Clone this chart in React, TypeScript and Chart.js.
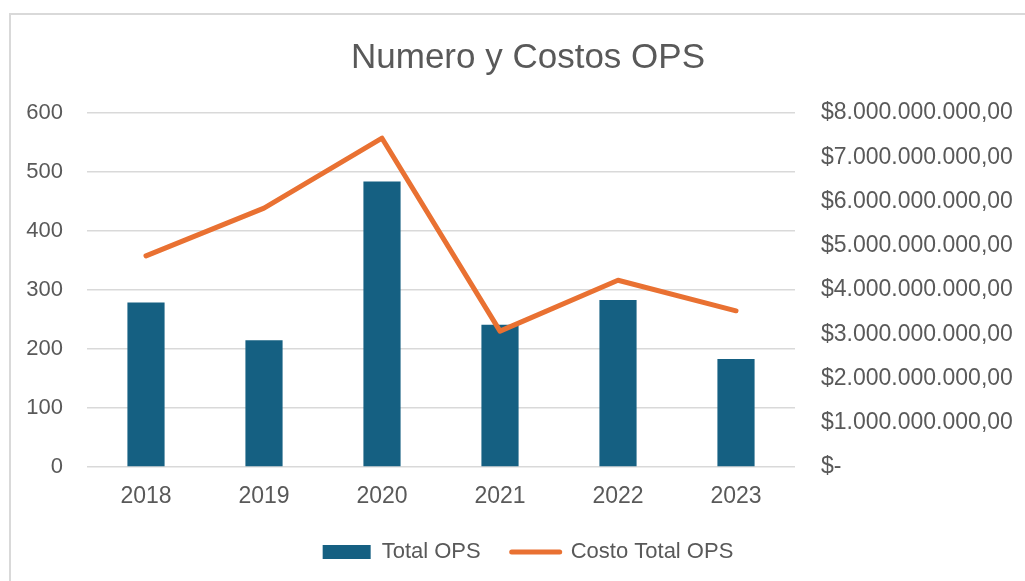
import React, { useEffect, useRef } from "react";
import { Chart, registerables } from "chart.js";

Chart.register(...registerables);

const chartTitle = "Numero y Costos OPS";
const years = ["2018", "2019", "2020", "2021", "2022", "2023"];
const seriesNames = ["Total OPS", "Costo Total OPS"];
const totalOps = [279, 215, 484, 241, 283, 183];
const costoTotalOps = [4770000000, 5850000000, 7430000000, 3070000000, 4220000000, 3530000000];
const leftAxis = { min: 0, max: 600, step: 100 };
const rightAxis = { min: 0, max: 8000000000, step: 1000000000 };

const BAR_COLOR = "#156082";
const LINE_COLOR = "#E97132";
const TEXT_COLOR = "#595959";
const GRID_COLOR = "#D9D9D9";
const FONT = "'Liberation Sans', Arial, sans-serif";

function fmtMoney(v: number): string {
  if (v === 0) return "$-";
  const s = Math.round(v).toString().replace(/\B(?=(\d{3})+(?!\d))/g, ".");
  return "$" + s + ",00";
}

export default function App() {
  const ref = useRef<HTMLCanvasElement | null>(null);

  useEffect(() => {
    if (!ref.current) return;
    const chart = new Chart(ref.current, {
      type: "bar",
      data: {
        labels: years,
        datasets: [
          {
            type: "line",
            label: seriesNames[1],
            data: costoTotalOps,
            yAxisID: "y1",
            borderColor: LINE_COLOR,
            backgroundColor: LINE_COLOR,
            borderWidth: 5,
            pointRadius: 0,
            pointHoverRadius: 0,
            tension: 0,
            borderCapStyle: "round",
            borderJoinStyle: "round",
            order: 1,
          } as any,
          {
            type: "bar",
            label: seriesNames[0],
            data: totalOps,
            yAxisID: "y",
            backgroundColor: BAR_COLOR,
            borderWidth: 0,
            barPercentage: 0.315,
            categoryPercentage: 1,
            order: 2,
          } as any,
        ],
      },
      options: {
        responsive: false,
        animation: false,
        devicePixelRatio: 1,
        layout: { padding: { left: 0, right: -31, top: 0, bottom: 8 } },
        plugins: {
          tooltip: { enabled: false },
          title: {
            display: true,
            text: chartTitle,
            color: TEXT_COLOR,
            font: { family: FONT, size: 35, weight: "normal" as any, lineHeight: 1.2 },
            padding: { top: 37, bottom: 34 },
          },
          legend: {
            display: true,
            position: "bottom",
            labels: {
              usePointStyle: true,
              pointStyleWidth: 48,
              boxHeight: 14,
              padding: 31,
              color: TEXT_COLOR,
              font: { family: FONT, size: 22 },
              generateLabels: () => [
                {
                  text: seriesNames[0],
                  fillStyle: BAR_COLOR,
                  strokeStyle: BAR_COLOR,
                  lineWidth: 0,
                  pointStyle: "rect",
                  fontColor: TEXT_COLOR,
                  hidden: false,
                  datasetIndex: 1,
                } as any,
                {
                  text: seriesNames[1],
                  fillStyle: LINE_COLOR,
                  strokeStyle: LINE_COLOR,
                  lineWidth: 5,
                  lineCap: "round",
                  pointStyle: "line",
                  fontColor: TEXT_COLOR,
                  hidden: false,
                  datasetIndex: 0,
                } as any,
              ],
            },
          },
        },
        scales: {
          x: {
            grid: { display: false, drawTicks: false },
            border: { display: false },
            ticks: {
              color: TEXT_COLOR,
              font: { family: FONT, size: 23 },
              padding: 16,
              maxRotation: 0,
            },
            afterFit: (s: any) => {
              s.height = 43;
            },
          },
          y: {
            position: "left",
            min: leftAxis.min,
            max: leftAxis.max,
            grid: { color: GRID_COLOR, lineWidth: 1.5, drawTicks: false },
            border: { display: false },
            ticks: {
              stepSize: leftAxis.step,
              color: TEXT_COLOR,
              font: { family: FONT, size: 22 },
              padding: 24,
            },
            afterFit: (s: any) => {
              s.width = 87;
            },
          },
          y1: {
            position: "right",
            min: rightAxis.min,
            max: rightAxis.max,
            grid: { display: false, drawTicks: false },
            border: { display: false },
            ticks: {
              stepSize: rightAxis.step,
              color: TEXT_COLOR,
              font: { family: FONT, size: 23 },
              padding: 26,
              callback: (v: any) => fmtMoney(Number(v)),
            },
            afterFit: (s: any) => {
              s.width = 261;
            },
          },
        },
      } as any,
    });
    return () => chart.destroy();
  }, []);

  return (
    <div
      style={{
        position: "fixed",
        left: 0,
        top: 0,
        width: 1025,
        height: 581,
        background: "#fff",
        overflow: "hidden",
      }}
    >
      <div
        style={{
          position: "absolute",
          left: 9,
          top: 13,
          width: 1100,
          height: 700,
          borderLeft: "2px solid #D9D9D9",
          borderTop: "2px solid #D9D9D9",
        }}
      />
      <canvas
        ref={ref}
        width={1025}
        height={581}
        style={{ position: "absolute", left: 0, top: 0, display: "block" }}
      />
    </div>
  );
}
